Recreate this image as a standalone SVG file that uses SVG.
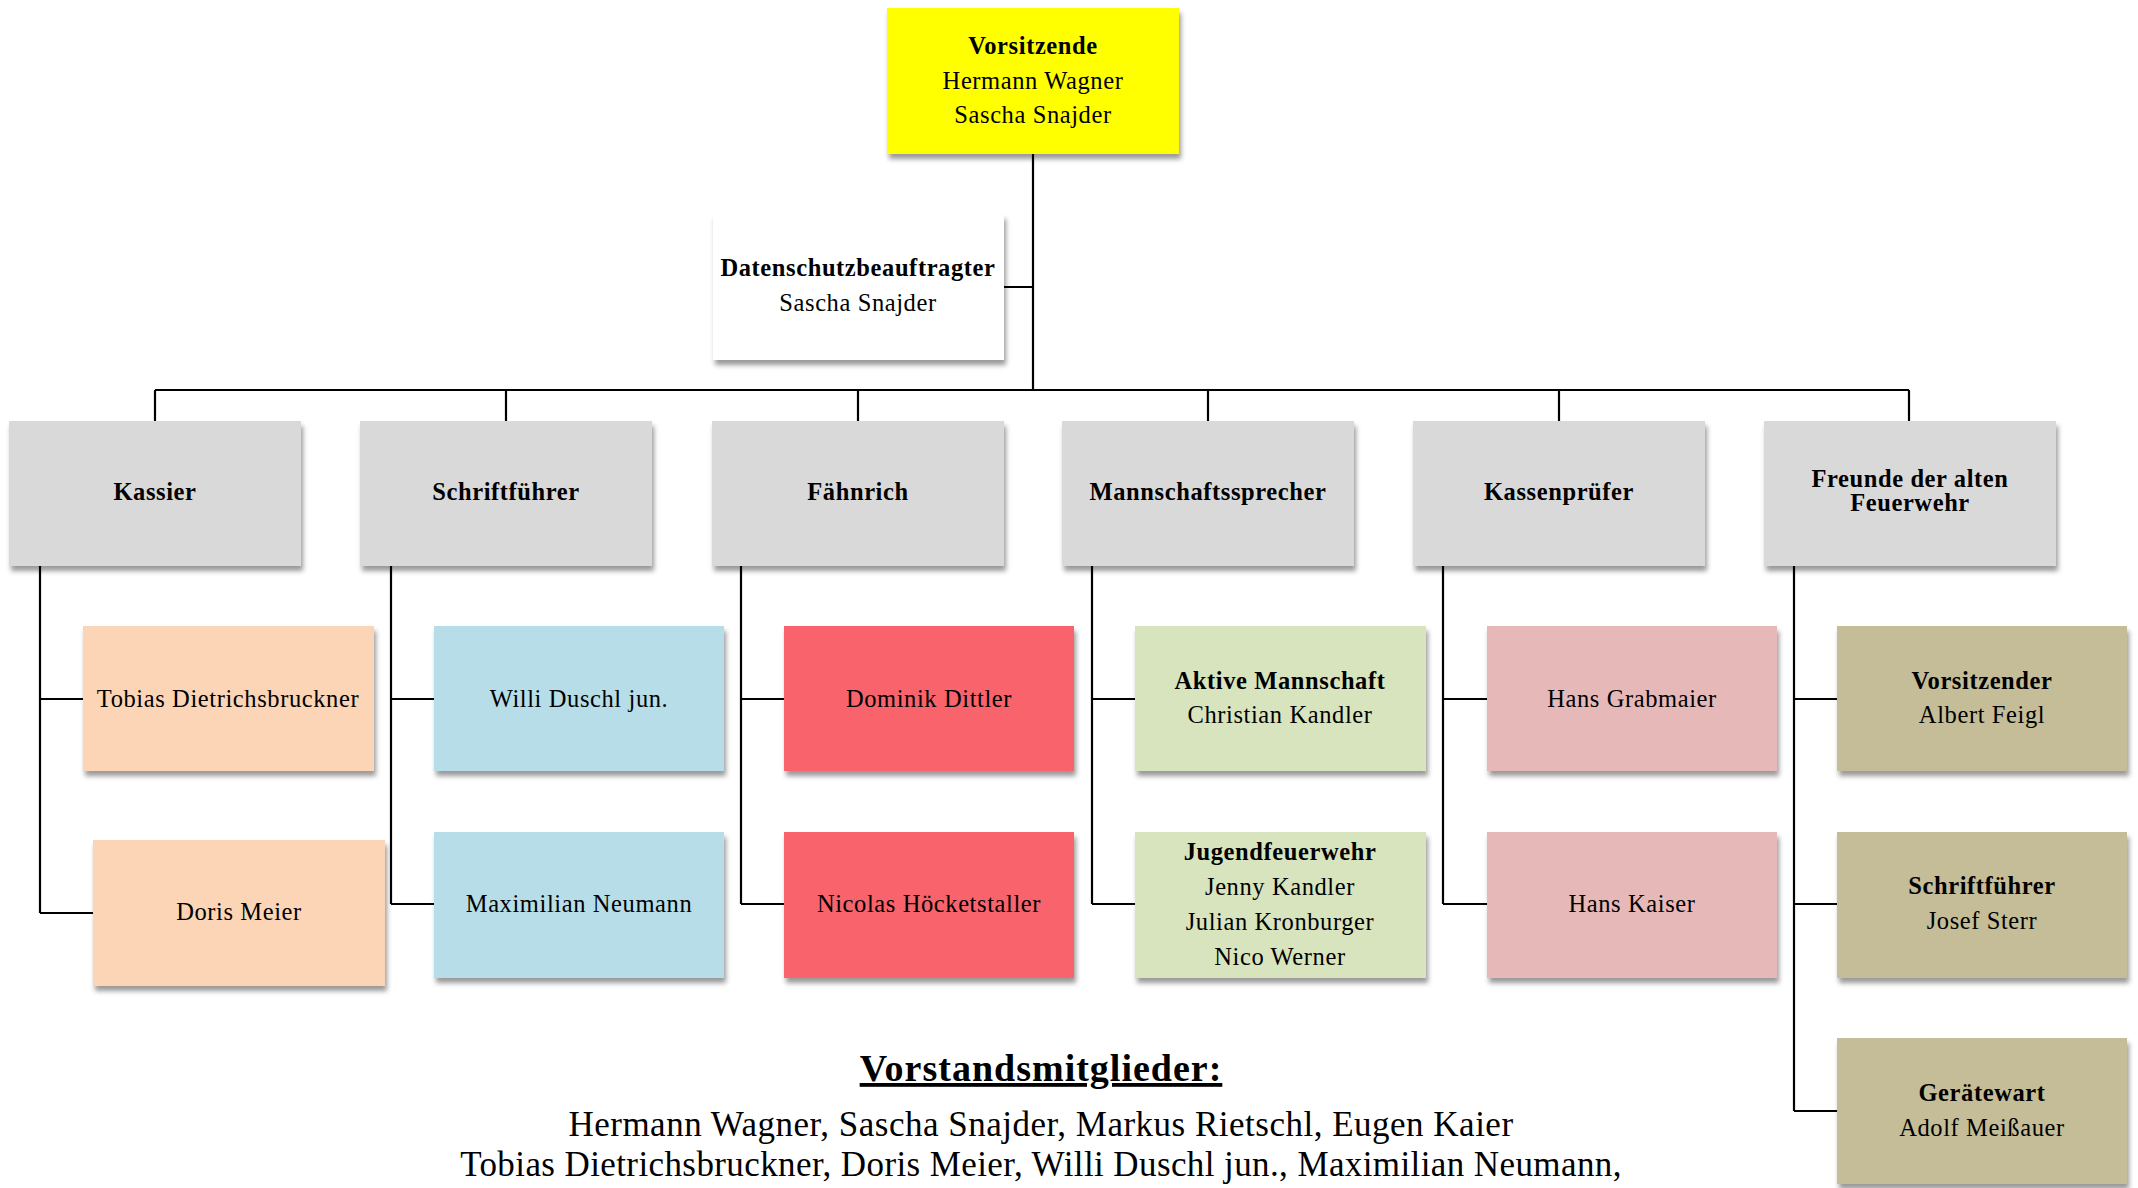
<svg xmlns="http://www.w3.org/2000/svg" width="2138" height="1188" viewBox="0 0 2138 1188">
<defs>
<filter id="sh" x="-10%" y="-10%" width="125%" height="130%">
<feDropShadow dx="2" dy="5" stdDeviation="2.5" flood-color="#000" flood-opacity="0.4"/>
</filter>
<style>
.box{filter:url(#sh);}
text{font-family:"Liberation Serif","DejaVu Serif",serif;font-size:24.5px;letter-spacing:0.6px;fill:#000;text-anchor:middle;}
.b{font-weight:bold;}
.conn{stroke:#000;stroke-width:2.2;fill:none;}
.yel{fill:#FFFF00;}
.wh{fill:#FFFFFF;}
.gr{fill:#D9D9D9;}
.pe{fill:#FBD5B5;}
.bl{fill:#B7DDE8;}
.rd{fill:#F8646C;}
.gn{fill:#D7E4BD;}
.pk{fill:#E6B9B8;}
.tn{fill:#C4BD97;}
</style>
</defs>
<rect width="2138" height="1188" fill="#fff"/>
<g id="connectors">
<path class="conn" d="M1033 154V390M1004 287H1033"/>
<path class="conn" d="M155 390H1909" stroke-width="3"/>
<path class="conn" d="M155 390V421M506 390V421M858 390V421M1208 390V421M1559 390V421M1909 390V421"/>
<path class="conn" d="M40 566V913M40 699H83M40 913H93"/>
<path class="conn" d="M391 566V904M391 699H434M391 904H434"/>
<path class="conn" d="M741 566V904M741 699H784M741 904H784"/>
<path class="conn" d="M1092 566V904M1092 699H1135M1092 904H1135"/>
<path class="conn" d="M1443 566V904M1443 699H1487M1443 904H1487"/>
<path class="conn" d="M1794 566V1111M1794 699H1837M1794 904H1837M1794 1111H1837"/>
</g>
<g id="vorsitzende"><rect class="box yel" x="887" y="8" width="292" height="146"/>
<text class="b" x="1033" y="54">Vorsitzende</text><text x="1033" y="89">Hermann Wagner</text><text x="1033" y="123">Sascha Snajder</text></g>
<g id="datenschutz"><rect class="box wh" x="713" y="214" width="291" height="146"/>
<text class="b" x="858" y="276">Datenschutzbeauftragter</text><text x="858" y="311">Sascha Snajder</text></g>
<g id="kassier"><rect class="box gr" x="9" y="421" width="292" height="145"/><text class="b" x="155" y="500">Kassier</text></g>
<g id="schriftfuehrer"><rect class="box gr" x="360" y="421" width="292" height="145"/><text class="b" x="506" y="500">Schriftführer</text></g>
<g id="faehnrich"><rect class="box gr" x="712" y="421" width="292" height="145"/><text class="b" x="858" y="500">Fähnrich</text></g>
<g id="mannschaftssprecher"><rect class="box gr" x="1062" y="421" width="292" height="145"/><text class="b" x="1208" y="500">Mannschaftssprecher</text></g>
<g id="kassenpruefer"><rect class="box gr" x="1413" y="421" width="292" height="145"/><text class="b" x="1559" y="500">Kassenprüfer</text></g>
<g id="freunde"><rect class="box gr" x="1764" y="421" width="292" height="145"/><text class="b" x="1910" y="487">Freunde der alten</text><text class="b" x="1910" y="511">Feuerwehr</text></g>
<g id="tobias"><rect class="box pe" x="83" y="626" width="291" height="145"/><text x="228" y="707">Tobias Dietrichsbruckner</text></g>
<g id="doris"><rect class="box pe" x="93" y="840" width="292" height="146"/><text x="239" y="920">Doris Meier</text></g>
<g id="willi"><rect class="box bl" x="434" y="626" width="290" height="145"/><text x="579" y="707">Willi Duschl jun.</text></g>
<g id="maximilian"><rect class="box bl" x="434" y="832" width="290" height="146"/><text x="579" y="912">Maximilian Neumann</text></g>
<g id="dominik"><rect class="box rd" x="784" y="626" width="290" height="145"/><text x="929" y="707">Dominik Dittler</text></g>
<g id="nicolas"><rect class="box rd" x="784" y="832" width="290" height="146"/><text x="929" y="912">Nicolas Höcketstaller</text></g>
<g id="aktive"><rect class="box gn" x="1135" y="626" width="291" height="145"/><text class="b" x="1280" y="689">Aktive Mannschaft</text><text x="1280" y="723">Christian Kandler</text></g>
<g id="jugend"><rect class="box gn" x="1135" y="832" width="291" height="146"/><text class="b" x="1280" y="860">Jugendfeuerwehr</text><text x="1280" y="895">Jenny Kandler</text><text x="1280" y="930">Julian Kronburger</text><text x="1280" y="965">Nico Werner</text></g>
<g id="grabmaier"><rect class="box pk" x="1487" y="626" width="290" height="145"/><text x="1632" y="707">Hans Grabmaier</text></g>
<g id="kaiser"><rect class="box pk" x="1487" y="832" width="290" height="146"/><text x="1632" y="912">Hans Kaiser</text></g>
<g id="vorsitzender"><rect class="box tn" x="1837" y="626" width="290" height="145"/><text class="b" x="1982" y="689">Vorsitzender</text><text x="1982" y="723">Albert Feigl</text></g>
<g id="schrift2"><rect class="box tn" x="1837" y="832" width="290" height="146"/><text class="b" x="1982" y="894">Schriftführer</text><text x="1982" y="929">Josef Sterr</text></g>
<g id="geraetewart"><rect class="box tn" x="1837" y="1038" width="290" height="146"/><text class="b" x="1982" y="1101">Gerätewart</text><text x="1982" y="1136">Adolf Meißauer</text></g>
<g id="footer">
<text class="b" x="1041" y="1081" style="font-size:38px;letter-spacing:1px;text-decoration:underline">Vorstandsmitglieder:</text>
<text x="1041" y="1136" style="font-size:35px;letter-spacing:0.5px">Hermann Wagner, Sascha Snajder, Markus Rietschl, Eugen Kaier</text>
<text x="1041" y="1176" style="font-size:35px;letter-spacing:0.4px">Tobias Dietrichsbruckner, Doris Meier, Willi Duschl jun., Maximilian Neumann,</text>
</g>
</svg>
